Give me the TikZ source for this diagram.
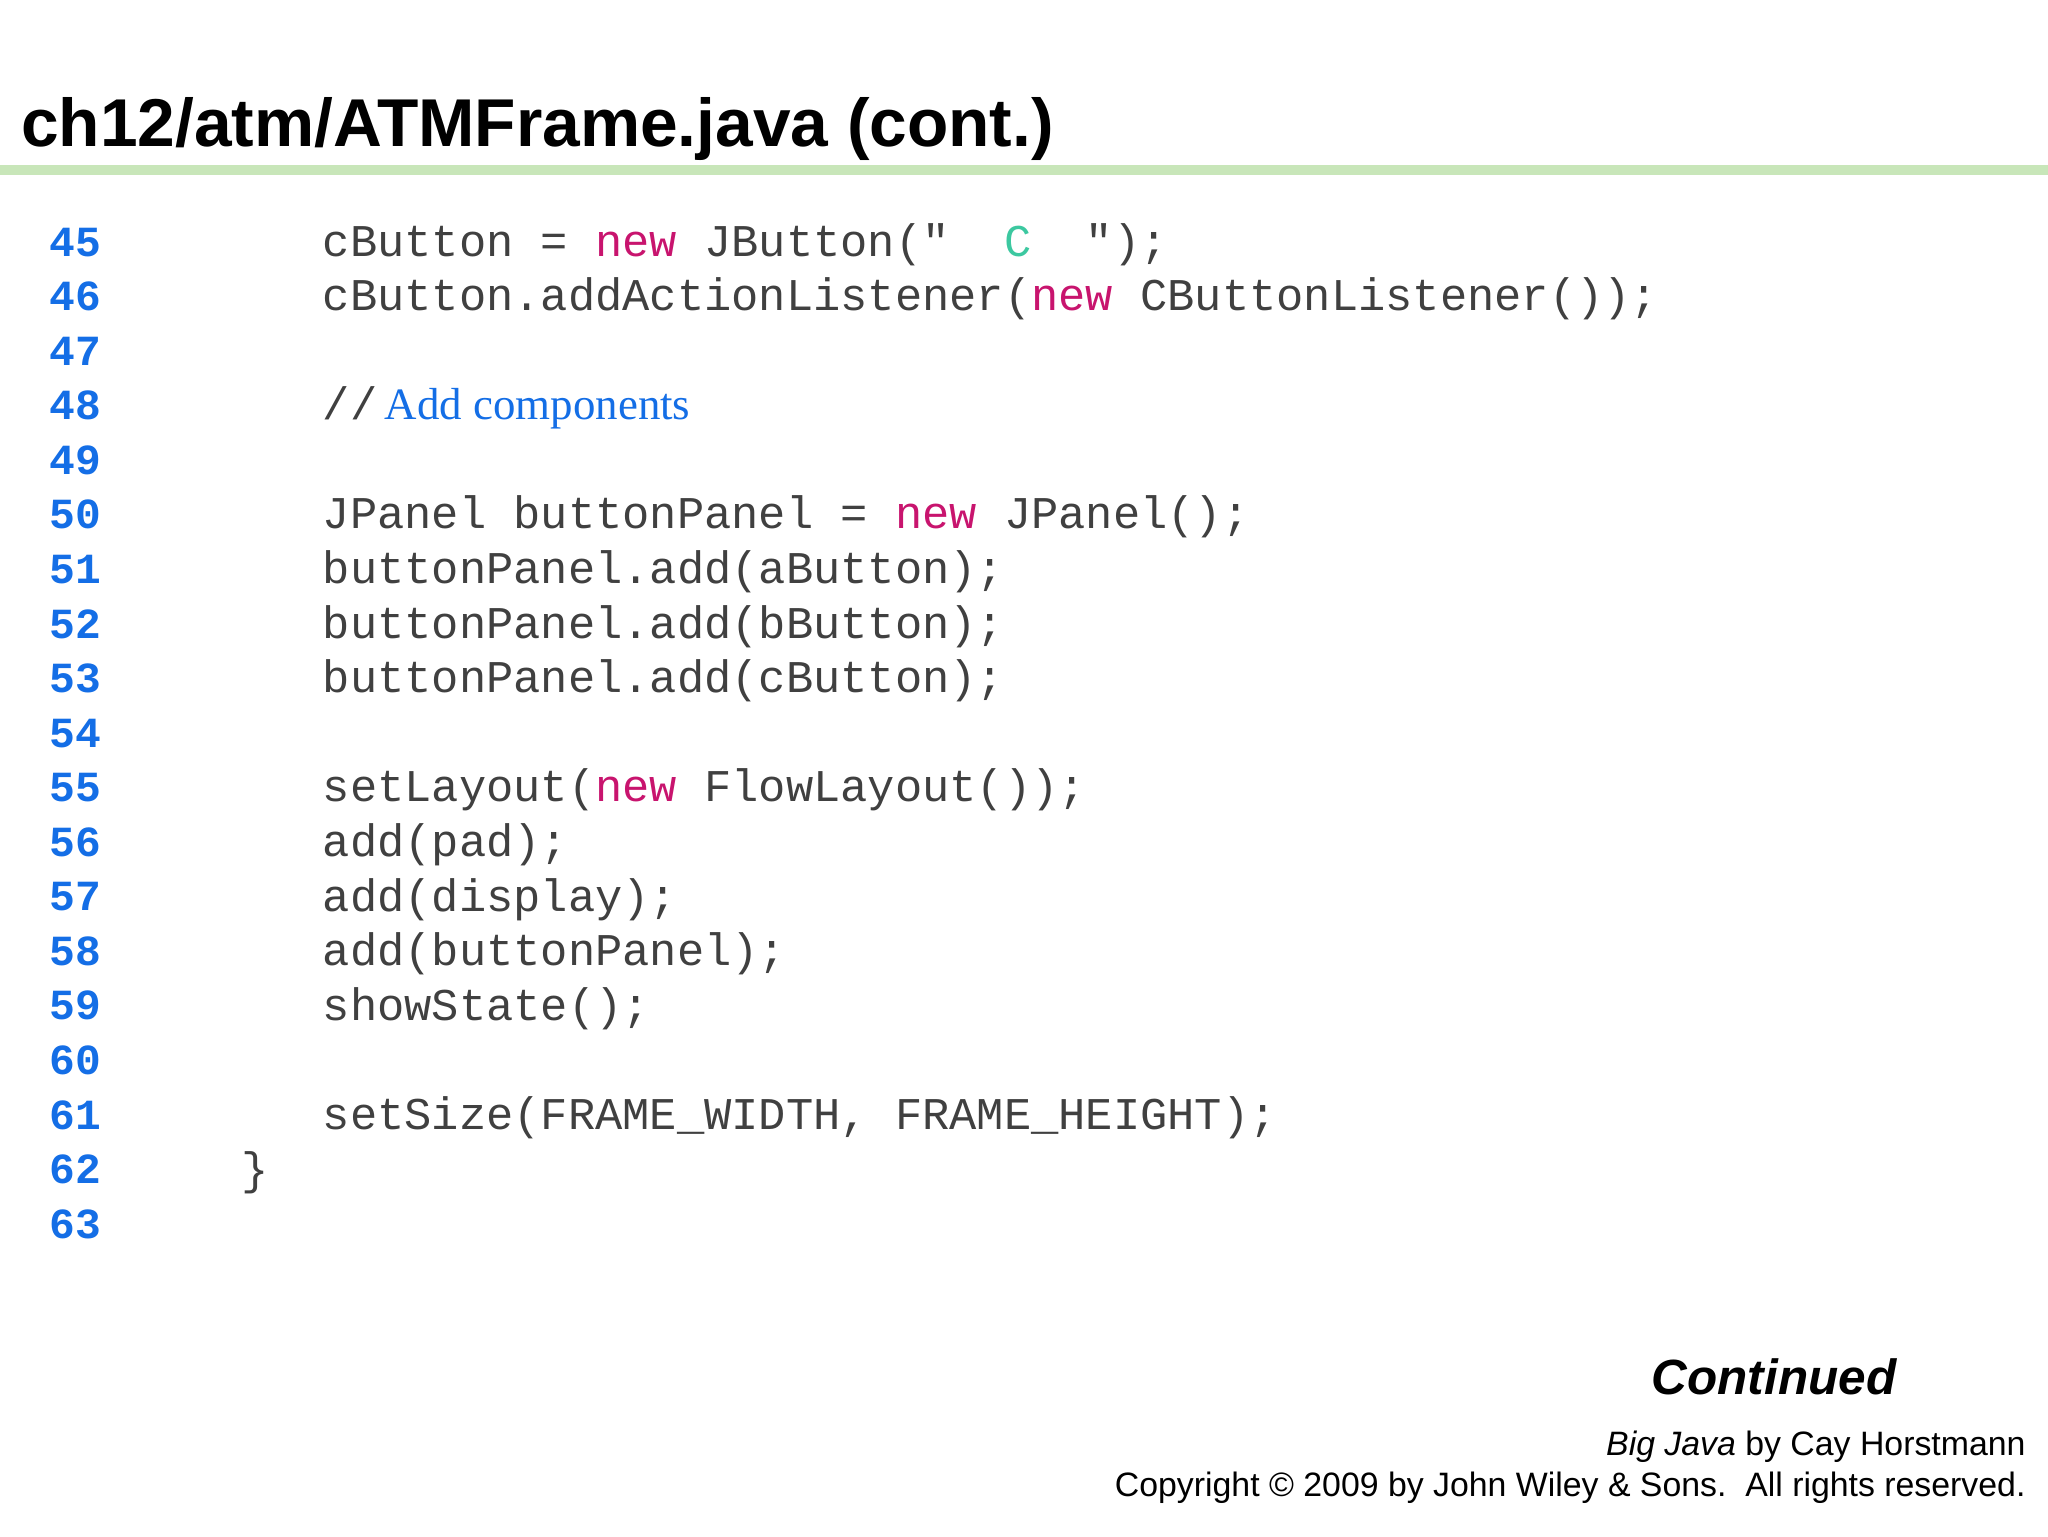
\documentclass[tikz,border=0pt]{standalone}
\usepackage{fontspec}
\setmainfont{Liberation Sans}
\setmonofont{Liberation Mono}
\newfontfamily\codeserif{Liberation Serif}
\definecolor{lnblue}{RGB}{20,110,230}
\definecolor{kwred}{RGB}{200,20,110}
\definecolor{strgreen}{RGB}{60,200,160}
\definecolor{barg}{RGB}{200,230,185}
\definecolor{cmblue}{RGB}{20,110,230}
\begin{document}
\begin{tikzpicture}[x=1bp,y=-1bp,
  code/.style={anchor=base west,inner sep=0pt,font=\fontsize{34.9}{36}\ttfamily\color{black!75}},
  lnum/.style={anchor=base west,inner sep=0pt,font=\fontsize{33}{36}\ttfamily\bfseries\color{lnblue}}]
\useasboundingbox[fill=white] (0,0) rectangle (1568,1176);
\node[anchor=base west,inner sep=0pt,font=\fontsize{52}{56}\selectfont\bfseries] (title) at (16,112) {ch12/atm/ATMFrame.java (cont.)};
\fill[barg] (0,126) rectangle (1568,134);
\foreach \n [count=\i from 0] in {45,...,63}{
  \node[lnum] (n\n) at (38,{196+41.78*\i}) {\n};
}
\def\kw#1{\textcolor{kwred}{#1}}
\node[code] (l45) at (247,196) {cButton = \kw{new} JButton("\ \ \textcolor{strgreen}{C}\ \ ");};
\node[code] (l46) at (247,238) {cButton.addActionListener(\kw{new} CButtonListener());};
\node[code] (l48) at (247,321) {//\,\textcolor{cmblue}{\codeserif\fontsize{34.5}{36}\selectfont Add components}};
\node[code] (l50) at (247,405) {JPanel buttonPanel = \kw{new} JPanel();};
\node[code] (l51) at (247,447) {buttonPanel.add(aButton);};
\node[code] (l52) at (247,489) {buttonPanel.add(bButton);};
\node[code] (l53) at (247,530) {buttonPanel.add(cButton);};
\node[code] (l55) at (247,614) {setLayout(\kw{new} FlowLayout());};
\node[code] (l56) at (247,656) {add(pad);};
\node[code] (l57) at (247,698) {add(display);};
\node[code] (l58) at (247,739) {add(buttonPanel);};
\node[code] (l59) at (247,781) {showState();};
\node[code] (l61) at (247,865) {setSize(FRAME\_WIDTH, FRAME\_HEIGHT);};
\node[code] (l62) at (185,907) {\}};
\node[anchor=base east,inner sep=0pt,font=\fontsize{38}{40}\selectfont\bfseries\itshape] (cont) at (1452,1068) {Continued};
\node[anchor=base east,inner sep=0pt,font=\fontsize{26}{28}\selectfont] (bj) at (1551,1114) {\textit{Big Java} by Cay Horstmann};
\node[anchor=base east,inner sep=0pt,font=\fontsize{26}{28}\selectfont] (cp) at (1551,1146) {Copyright © 2009 by John Wiley \& Sons.\ \ All rights reserved.};
\end{tikzpicture}
\end{document}
